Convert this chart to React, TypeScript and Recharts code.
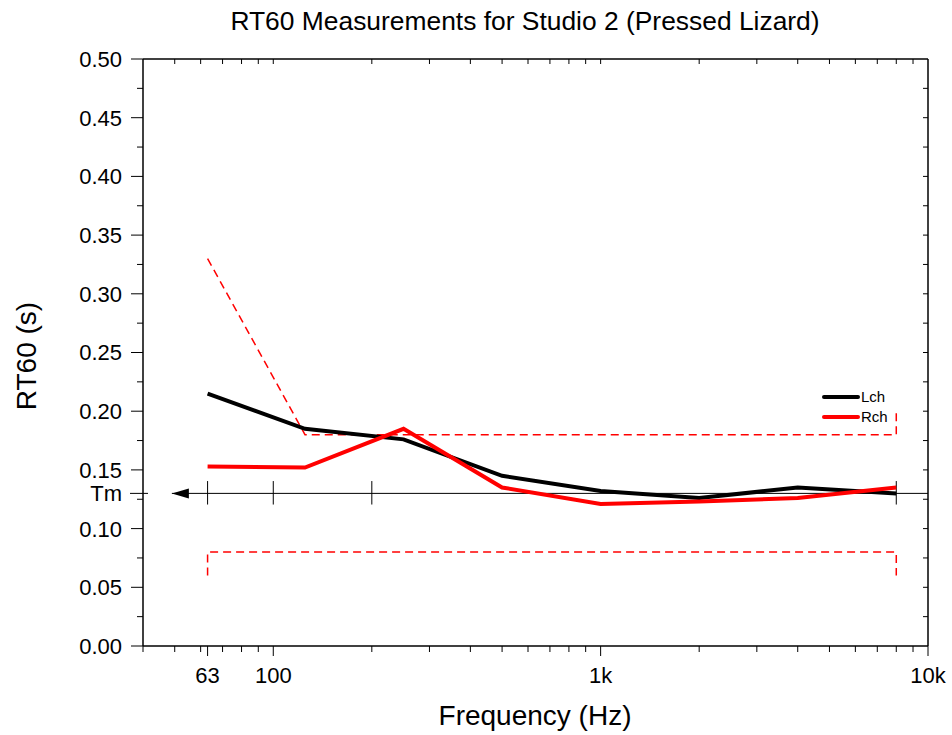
import {
  ComposedChart,
  Line,
  Scatter,
  XAxis,
  YAxis,
  ReferenceLine,
  ReferenceDot,
} from "recharts";

// octave band centres (Hz) and measured RT60 (s)
const freqs = [63, 125, 250, 500, 1000, 2000, 4000, 8000];
const lch = [0.215, 0.185, 0.176, 0.145, 0.132, 0.126, 0.135, 0.13];
const rch = [0.153, 0.152, 0.185, 0.135, 0.121, 0.123, 0.126, 0.135];

// tolerance envelope (dashed red)
const upperFreq = [63, 125, 8000, 8000];
const upperVal = [0.33, 0.18, 0.18, 0.2];
const lowerFreq = [63, 63, 8000, 8000];
const lowerVal = [0.06, 0.08, 0.08, 0.06];

// mean RT60 reference line
const tm = 0.13;
const tmFreq = [49, 10000];
const tmTicks = [63, 100, 200, 8000];

const xMajor = [63, 100, 1000, 10000];
const xMajorLabels = ["63", "100", "1k", "10k"];
const xMinor = [40, 50, 60, 70, 80, 90, 200, 300, 400, 500, 600, 700, 800, 900,
  2000, 3000, 4000, 5000, 6000, 7000, 8000, 9000];
const yMajor = [0, 0.05, 0.1, 0.15, 0.2, 0.25, 0.3, 0.35, 0.4, 0.45, 0.5];
const yMinor = [0.025, 0.075, 0.125, 0.175, 0.225, 0.275, 0.325, 0.375, 0.425, 0.475];

const FONT = "'Liberation Sans', Arial, sans-serif";
const TICK_FONT = 22;

const chartData = freqs.map((f, i) => ({ f, L: lch[i], R: rch[i] }));
const upperData = upperFreq.map((f, i) => ({ f, v: upperVal[i] }));
const lowerData = lowerFreq.map((f, i) => ({ f, v: lowerVal[i] }));
const tmData = tmFreq.map((f) => ({ f, v: tm }));

const xTicks = [...xMinor, ...xMajor].sort((a, b) => a - b);
const yTicks = [...yMajor, ...yMinor, tm].sort((a, b) => a - b);

// inward ticks on the top and right edges of the frame
const topTicks = [50, 60, 70, 80, 90, 100, 200, 300, 400, 500, 600, 700, 800, 900,
  1000, 2000, 3000, 4000, 5000, 6000, 7000, 8000, 9000];
const rightTicks = [...yMajor, ...yMinor].filter((v) => v > 0 && v < 0.5);
const topTickData = topTicks.map((f) => ({ f, v: 0.5 }));
const rightTickData = rightTicks.map((v) => ({ f: 10000, v }));

function BottomTick(props: any) {
  const { x, y, payload } = props;
  const idx = xMajor.indexOf(payload.value);
  const major = idx >= 0;
  return (
    <g>
      <line x1={x} y1={y} x2={x} y2={y + (major ? 10 : 6)} stroke="#000" strokeWidth={1} />
      {major && (
        <text x={x} y={y + 37} textAnchor="middle" fontSize={TICK_FONT} fontFamily={FONT} fill="#000">
          {xMajorLabels[idx]}
        </text>
      )}
    </g>
  );
}

function LeftTick(props: any) {
  const { x, y, payload } = props;
  const v = payload.value;
  if (v === tm) {
    return (
      <g>
        <line x1={x - 13} y1={y} x2={x + 5} y2={y} stroke="#000" strokeWidth={1} />
        <text x={x - 21} y={y} dy="0.36em" textAnchor="end" fontSize={TICK_FONT} fontFamily={FONT} fill="#000">
          Tm
        </text>
      </g>
    );
  }
  const major = yMajor.some((m) => Math.abs(m - v) < 1e-9);
  return (
    <g>
      <line x1={x - (major ? 12 : 6)} y1={y} x2={x} y2={y} stroke="#000" strokeWidth={1} />
      {major && (
        <text x={x - 21} y={y} dy="0.36em" textAnchor="end" fontSize={TICK_FONT} fontFamily={FONT} fill="#000">
          {v.toFixed(2)}
        </text>
      )}
    </g>
  );
}

const TopTickMark = (props: any) => {
  const { cx, cy } = props;
  return <line x1={cx} y1={cy} x2={cx} y2={cy + 5} stroke="#000" strokeWidth={1} />;
};

const RightTickMark = (props: any) => {
  const { cx, cy } = props;
  return <line x1={cx - 5} y1={cy} x2={cx} y2={cy} stroke="#000" strokeWidth={1} />;
};

function ArrowHead(props: any) {
  const { cx, cy } = props;
  return <polygon points={`${cx},${cy} ${cx + 17},${cy - 5} ${cx + 17},${cy + 5}`} fill="#000" />;
}

function LegendBox() {
  const items = [
    { name: "Lch", color: "#000" },
    { name: "Rch", color: "#ff0000" },
  ];
  return (
    <svg width={80} height={40} style={{ position: "absolute", left: 822, top: 389 }}>
      {items.map((it, i) => (
        <g key={it.name}>
          <line x1={2} y1={8 + i * 20} x2={36} y2={8 + i * 20} stroke={it.color} strokeWidth={4} strokeLinecap="round" />
          <text x={39} y={8 + i * 20} dy="0.36em" fontSize={15} fontFamily={FONT} fill="#000">
            {it.name}
          </text>
        </g>
      ))}
    </svg>
  );
}

export default function App() {
  return (
    <div style={{ position: "absolute", left: 0, top: 0, width: 952, height: 735, background: "#fff", fontFamily: FONT }}>
      <div style={{ position: "absolute", left: 0, top: 6, width: 1050, textAlign: "center", fontSize: 26.4, color: "#000" }}>
        RT60 Measurements for Studio 2 (Pressed Lizard)
      </div>
      <div style={{ position: "absolute", left: 0, top: 700, width: 1070, textAlign: "center", fontSize: 28, color: "#000" }}>
        Frequency (Hz)
      </div>
      <div
        style={{
          position: "absolute",
          left: 27,
          top: 356,
          transform: "translate(-50%, -50%) rotate(-90deg)",
          fontSize: 28,
          whiteSpace: "nowrap",
          color: "#000",
        }}
      >
        RT60 (s)
      </div>
      <ComposedChart
        width={952}
        height={735}
        data={chartData}
        margin={{ top: 58, right: 23, bottom: 0, left: 0 }}
        style={{ position: "absolute", left: 0, top: 0 }}
      >
        <XAxis
          xAxisId="b"
          dataKey="f"
          type="number"
          scale="log"
          domain={[40, 10000]}
          allowDataOverflow
          ticks={xTicks}
          interval={0}
          height={89}
          tickSize={0}
          tickMargin={0}
          tickLine={false}
          tick={<BottomTick />}
          axisLine={{ stroke: "#000", strokeWidth: 1.5 }}
        />
        <XAxis
          xAxisId="t"
          orientation="top"
          dataKey="f"
          type="number"
          scale="log"
          domain={[40, 10000]}
          allowDataOverflow
          height={1}
          tick={false}
          tickLine={false}
          axisLine={{ stroke: "#000", strokeWidth: 1.5 }}
        />
        <YAxis
          yAxisId="l"
          type="number"
          domain={[0, 0.5]}
          ticks={yTicks}
          interval={0}
          width={143}
          tickSize={0}
          tickMargin={0}
          tickLine={false}
          tick={<LeftTick />}
          axisLine={{ stroke: "#000", strokeWidth: 1.5 }}
        />
        <YAxis
          yAxisId="r"
          orientation="right"
          type="number"
          domain={[0, 0.5]}
          width={1}
          tick={false}
          tickLine={false}
          axisLine={{ stroke: "#000", strokeWidth: 1.5 }}
        />

        <Scatter
          xAxisId="b"
          yAxisId="l"
          data={topTickData}
          dataKey="v"
          shape={TopTickMark}
          isAnimationActive={false}
        />
        <Scatter
          xAxisId="b"
          yAxisId="l"
          data={rightTickData}
          dataKey="v"
          shape={RightTickMark}
          isAnimationActive={false}
        />

        <Line
          xAxisId="t"
          yAxisId="r"
          data={tmData}
          dataKey="v"
          stroke="#000"
          strokeWidth={1}
          dot={false}
          isAnimationActive={false}
        />
        {tmTicks.map((f) => (
          <ReferenceLine
            key={f}
            xAxisId="b"
            yAxisId="l"
            segment={[{ x: f, y: tm - 0.0095 }, { x: f, y: tm + 0.0105 }]}
            stroke="#000"
            strokeWidth={1}
          />
        ))}
        <ReferenceDot xAxisId="b" yAxisId="l" x={tmFreq[0]} y={tm} shape={<ArrowHead />} />

        <Line
          xAxisId="t"
          yAxisId="r"
          data={upperData}
          dataKey="v"
          stroke="#ff0000"
          strokeWidth={1.5}
          strokeDasharray="8 5"
          dot={false}
          isAnimationActive={false}
        />
        <Line
          xAxisId="t"
          yAxisId="r"
          data={lowerData}
          dataKey="v"
          stroke="#ff0000"
          strokeWidth={1.5}
          strokeDasharray="8 5"
          dot={false}
          isAnimationActive={false}
        />
        <Line
          xAxisId="b"
          yAxisId="l"
          dataKey="L"
          name="Lch"
          stroke="#000"
          strokeWidth={4}
          dot={false}
          isAnimationActive={false}
        />
        <Line
          xAxisId="b"
          yAxisId="l"
          dataKey="R"
          name="Rch"
          stroke="#ff0000"
          strokeWidth={4}
          dot={false}
          isAnimationActive={false}
        />
      </ComposedChart>
      <LegendBox />
    </div>
  );
}
